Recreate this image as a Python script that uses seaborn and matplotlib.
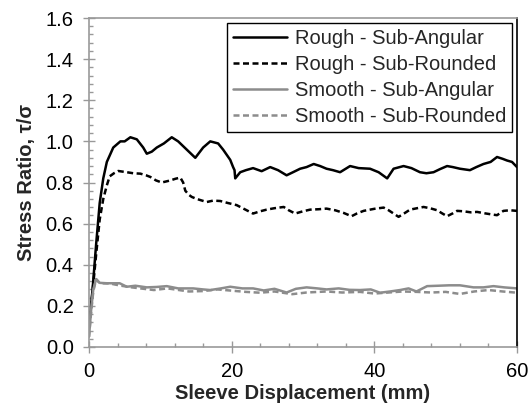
import matplotlib
matplotlib.use("Agg")
import matplotlib.pyplot as plt
from matplotlib.ticker import MultipleLocator, FormatStrFormatter
import seaborn as sns
import pandas as pd

# ---- data ----
rsa_x = [0, 0.5, 1.0, 1.5, 2.0, 2.5, 3.4, 4.4, 5.0, 5.8, 6.7, 7.6, 8.1, 8.8, 9.5, 10.5, 11.6, 12.5, 13.7,
         14.9, 16.0, 17.0, 18.1, 18.8, 19.8, 20.2, 20.4, 20.5, 21.2, 22.0, 23.0, 24.2, 25.4, 26.5, 27.7, 28.6,
         29.6, 30.5, 31.5, 32.4, 33.3, 34.2, 35.2, 36.6, 37.8, 39.4, 40.6, 41.8, 42.7, 44.1, 45.2, 46.4, 47.3,
         48.3, 49.2, 50.2, 51.0, 52.0, 53.4, 54.3, 55.3, 56.3, 57.2, 58.0, 58.6, 59.3, 60]
rsa_y = [0.10, 0.28, 0.50, 0.70, 0.82, 0.90, 0.97, 1.00, 1.00, 1.02, 1.01, 0.97, 0.94, 0.95, 0.97, 0.99, 1.02,
         1.00, 0.96, 0.92, 0.97, 1.00, 0.99, 0.96, 0.91, 0.875, 0.86, 0.82, 0.85, 0.86, 0.87, 0.855, 0.875, 0.86,
         0.835, 0.85, 0.867, 0.875, 0.89, 0.88, 0.867, 0.86, 0.85, 0.88, 0.87, 0.867, 0.85, 0.82, 0.867, 0.88,
         0.87, 0.85, 0.845, 0.85, 0.865, 0.88, 0.875, 0.867, 0.86, 0.875, 0.89, 0.90, 0.924, 0.915, 0.907, 0.90,
         0.875]

rsr_x = [0, 0.5, 1.0, 1.5, 2.0, 2.5, 2.9, 3.5, 4.1, 5.3, 6.2, 7.2, 8.0, 8.6, 9.4, 10.2, 10.8, 11.4, 12.1, 12.8,
         13.2, 13.5, 14.0, 14.4, 15.1, 16.5, 17.4, 18.4, 19.5, 20.7, 22.1, 23.0, 24.0, 24.9, 26.0, 27.3, 28.0,
         28.9, 30.0, 31.0, 32.2, 33.3, 34.5, 35.7, 36.8, 37.6, 38.5, 40.0, 41.3, 42.0, 42.7, 43.4, 44.2, 45.0,
         46.0, 46.9, 47.8, 48.8, 49.5, 50.2, 51.0, 51.6, 52.5, 53.5, 54.4, 55.5, 56.4, 57.2, 58.1, 59.0, 60]
rsr_y = [0.10, 0.27, 0.45, 0.62, 0.72, 0.786, 0.83, 0.845, 0.856, 0.85, 0.845, 0.843, 0.835, 0.827, 0.81, 0.80,
         0.805, 0.81, 0.818, 0.824, 0.80, 0.76, 0.74, 0.73, 0.72, 0.705, 0.712, 0.71, 0.70, 0.69, 0.665, 0.649,
         0.66, 0.668, 0.675, 0.681, 0.665, 0.649, 0.66, 0.668, 0.67, 0.673, 0.665, 0.652, 0.636, 0.65, 0.662,
         0.672, 0.678, 0.665, 0.649, 0.633, 0.65, 0.668, 0.675, 0.681, 0.675, 0.665, 0.65, 0.636, 0.65, 0.662,
         0.66, 0.655, 0.657, 0.65, 0.645, 0.641, 0.662, 0.665, 0.662]

ssa_x = [0, 0.3, 0.6, 1.0, 1.5, 2.5, 4.3, 5.3, 6.5, 8.1, 9.5, 10.9, 12.5, 14.6, 16.0, 17.0, 18.5, 19.8, 21.5,
         23.0, 24.5, 26.0, 27.7, 29.0, 30.5, 32.0, 33.3, 35.0, 36.5, 38.0, 39.5, 40.8, 42.2, 43.6, 44.8, 45.9,
         47.4, 49.0, 50.5, 52.0, 53.9, 55.3, 56.7, 58.2, 60]
ssa_y = [0.05, 0.18, 0.28, 0.33, 0.312, 0.31, 0.31, 0.293, 0.298, 0.29, 0.292, 0.296, 0.285, 0.285, 0.28, 0.277,
         0.285, 0.293, 0.285, 0.285, 0.275, 0.283, 0.265, 0.283, 0.29, 0.285, 0.28, 0.285, 0.278, 0.277, 0.28,
         0.264, 0.27, 0.277, 0.285, 0.27, 0.296, 0.298, 0.30, 0.30, 0.29, 0.29, 0.296, 0.29, 0.285]

ssr_x = [0, 0.3, 0.6, 1.0, 1.5, 2.9, 4.5, 6.0, 9.1, 11.0, 14.0, 16.0, 18.0, 20.0, 22.0, 24.0, 26.0, 28.5, 30.5,
         33.3, 35.5, 38.0, 40.0, 42.0, 44.0, 46.0, 48.0, 50.0, 52.0, 54.0, 56.0, 58.0, 60]
ssr_y = [0.05, 0.17, 0.27, 0.33, 0.31, 0.309, 0.298, 0.29, 0.277, 0.285, 0.27, 0.272, 0.28, 0.274, 0.268, 0.264,
         0.27, 0.257, 0.265, 0.27, 0.265, 0.268, 0.26, 0.265, 0.27, 0.268, 0.265, 0.268, 0.258, 0.27, 0.277,
         0.27, 0.264]

labels = ["Rough - Sub-Angular", "Rough - Sub-Rounded", "Smooth - Sub-Angular", "Smooth - Sub-Rounded"]
x_ticks = [0, 20, 40, 60]
y_ticks = [0.0, 0.2, 0.4, 0.6, 0.8, 1.0, 1.2, 1.4, 1.6]

# ---- style ----
sns.set_style("white")
plt.rcParams["font.family"] = ["Liberation Sans", "DejaVu Sans"]
FS = 14.5
plt.rcParams["font.size"] = FS

fig = plt.figure(figsize=(5.30, 4.07), dpi=100)
ax = fig.add_axes([89 / 530, 1 - 347 / 407, (517 - 89) / 530, (347 - 18) / 407])

series = [(rsa_x, rsa_y, "black", None), (rsr_x, rsr_y, "black", (2.4, 1.4)),
          (ssa_x, ssa_y, "#8c8c8c", None), (ssr_x, ssr_y, "#8c8c8c", (2.4, 1.4))]
for (xs, ys, col, dash), lab in zip(series, labels):
    df = pd.DataFrame({"x": xs, "y": ys})
    sns.lineplot(data=df, x="x", y="y", ax=ax, sort=False, color=col, lw=1.8, label=lab)
    if dash is not None:
        ax.lines[-1].set_dashes(dash)

ax.set_xlim(0, 60)
ax.set_ylim(0, 1.6)
ax.set_xticks(x_ticks)
ax.set_yticks(y_ticks)
ax.yaxis.set_major_formatter(FormatStrFormatter("%.1f"))
ax.xaxis.set_minor_locator(MultipleLocator(4))
ax.yaxis.set_minor_locator(MultipleLocator(0.04))

ax.tick_params(which="major", direction="inout", length=8, width=1, color="#999999",
               labelsize=FS, labelcolor="black", bottom=True, left=True)
ax.tick_params(axis="x", which="major", pad=7)
ax.tick_params(axis="y", which="major", pad=7)
ax.tick_params(which="minor", direction="in", length=3, width=1, color="#999999", bottom=True, left=True)

for s in ["left", "bottom", "top"]:
    ax.spines[s].set_color("#999999")
    ax.spines[s].set_linewidth(1.2)
ax.spines["right"].set_color("black")
ax.spines["right"].set_linewidth(1.2)

ax.set_xlabel("Sleeve Displacement (mm)", fontsize=FS, fontweight="bold", labelpad=2)
ax.set_ylabel("Stress Ratio, τ/σ", fontsize=FS, fontweight="bold", labelpad=7)

leg = ax.legend(loc="upper right", frameon=True, fancybox=False, edgecolor="black", fontsize=FS,
                handlelength=2.7, handletextpad=0.35, labelspacing=0.35, borderpad=0.3,
                borderaxespad=0.25, framealpha=1)
leg.get_frame().set_linewidth(1.0)

fig.savefig("out.png", dpi=100)
